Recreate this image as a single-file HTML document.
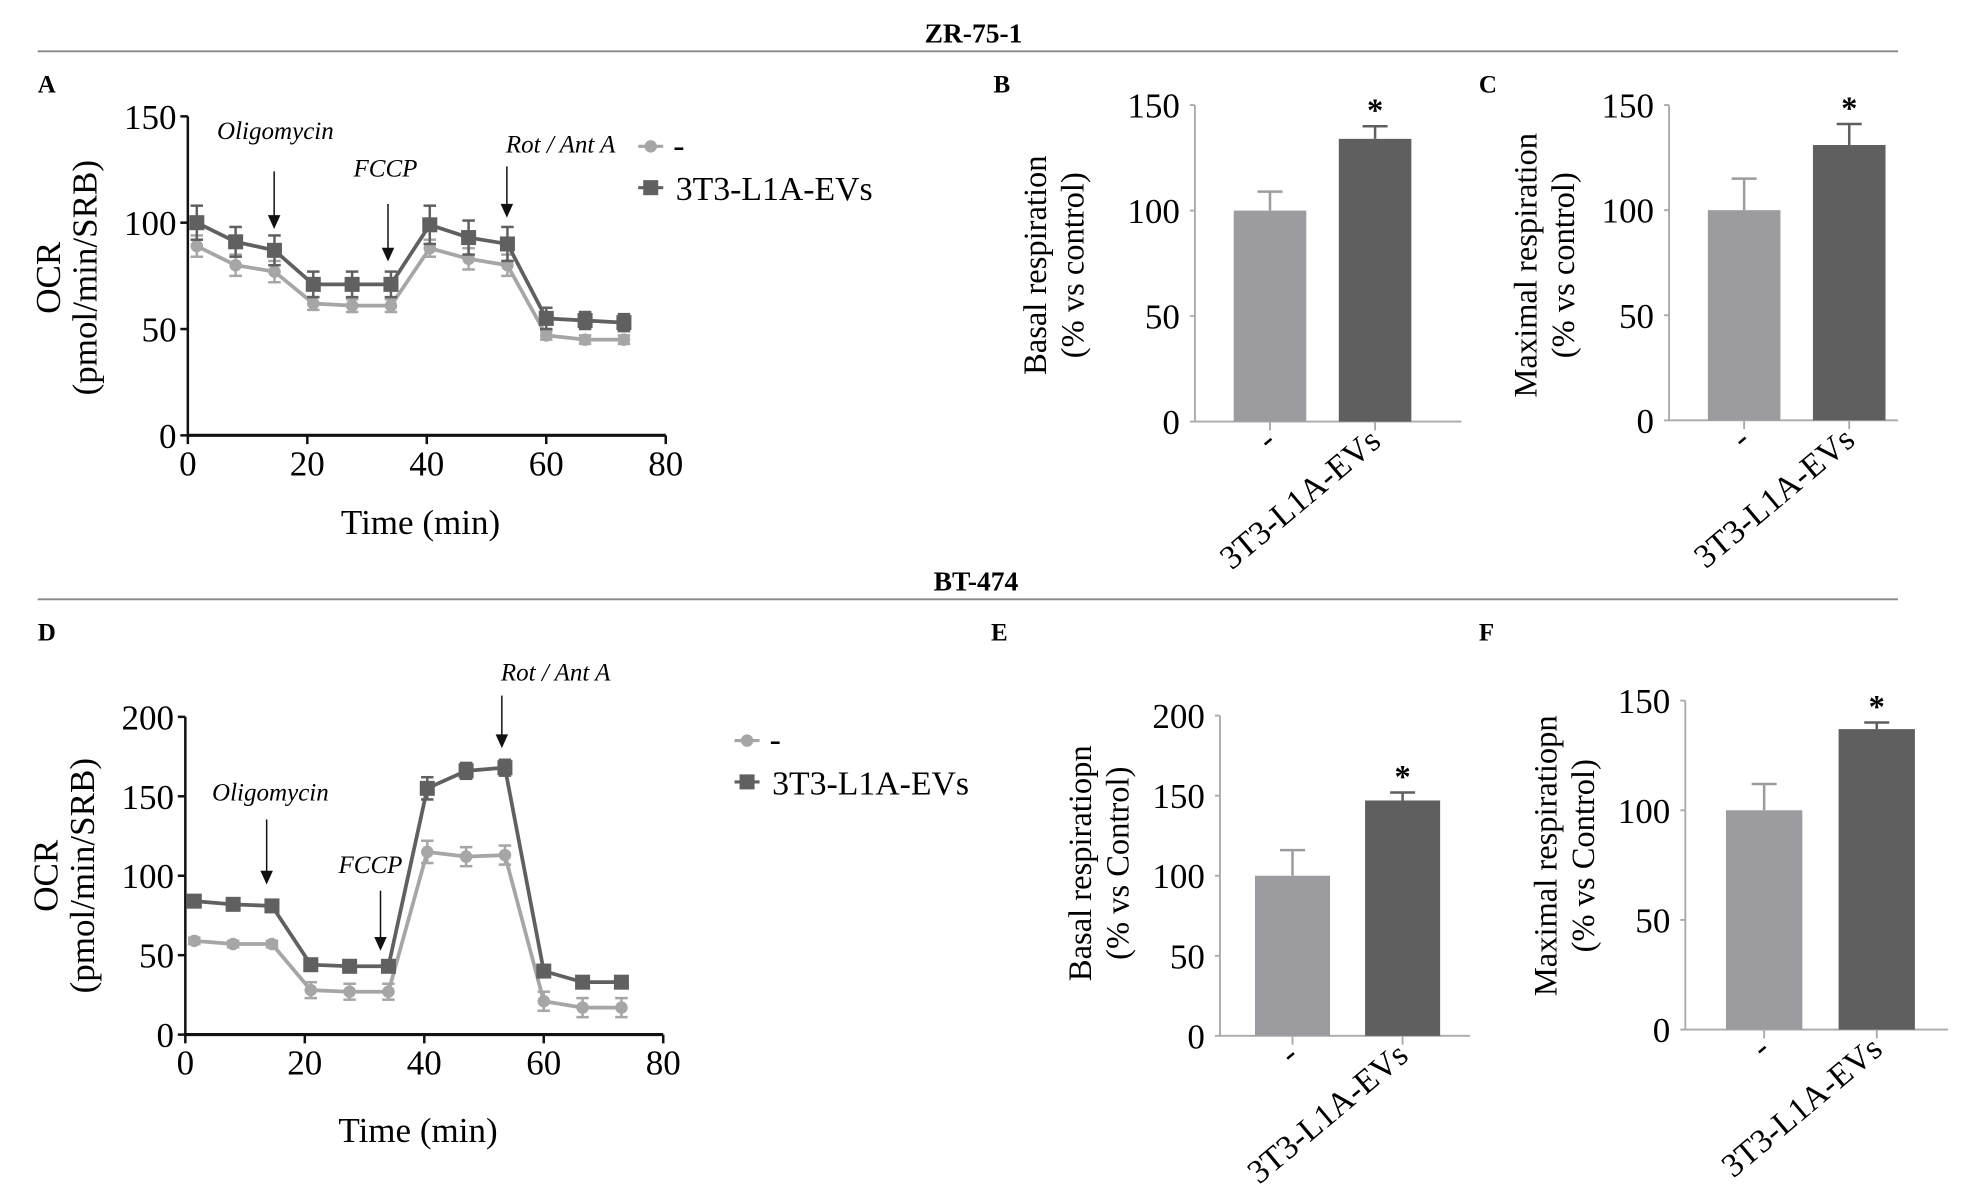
<!DOCTYPE html>
<html><head><meta charset="utf-8"><style>html,body{margin:0;padding:0;background:#fff}svg{display:block}text{font-family:"Liberation Serif",serif}</style></head>
<body>
<svg id="fig" width="1962" height="1196" viewBox="0 0 1568 956" xmlns="http://www.w3.org/2000/svg">
<g>
<text x="778" y="34" font-size="22" font-weight="bold" text-anchor="middle">ZR-75-1</text>
<line x1="30" y1="41" x2="1517" y2="41" stroke="#888" stroke-width="1.5"/>
</g>
<g>
<text x="780" y="472" font-size="22" font-weight="bold" text-anchor="middle">BT-474</text>
<line x1="30" y1="479" x2="1517" y2="479" stroke="#888" stroke-width="1.5"/>
</g>
</svg>
<script>
const timeA=[1.5,8,14.5,21,27.5,34,40.5,47,53.5,60,66.5,73];
const ctrlA=[89,80,77,62,61,61,88,83,80,47,45,45];
const ctrlAErr=[5,5,5,3,3,3,4,5,5,2,2,2];
const evsA=[100,91,87,71,71,71,99,93,90,55,54,53];
const evsAErr=[8,7,7,6,6,6,9,8,8,5,4,4];
const ctrlD=[59,57,57,28,27,27,115,112,113,21,17,17];
const ctrlDErr=[2,2,2,5,5,5,7,6,6,6,6,6];
const evsD=[84,82,81,44,43,43,155,166,168,40,33,33];
const evsDErr=[3,3,3,2,2,2,7,5,5,2,2,2];
const barCats=['-','3T3-L1A-EVs'];
const barB=[100,134],barBErr=[9,6];
const barC=[100,131],barCErr=[15,10];
const barE=[100,147],barEErr=[16,5];
const barF=[100,137],barFErr=[12,3];
const ticksY150=[0,50,100,150],ticksY200=[0,50,100,150,200],ticksX=[0,20,40,60,80];

const svg=document.getElementById('fig');const NS='http://www.w3.org/2000/svg';
function el(tag,attrs,parent,txt){const e=document.createElementNS(NS,tag);for(const k in attrs)e.setAttribute(k,attrs[k]);if(txt!==undefined)e.textContent=txt;(parent||svg).appendChild(e);return e;}
function grp(name){const g=el('g',{});return g;}

function lineChart(o){
  const g=grp(o.name);
  const sx=v=>o.x0+(v-0)/80*(o.x1-o.x0);
  const sy=v=>o.y0-(v/o.ymax)*(o.y0-o.y1);
  el('line',{x1:o.x0,y1:sy(0),x2:o.x1,y2:sy(0),stroke:'#111','stroke-width':2.5},g);
  el('line',{x1:o.x0,y1:sy(0),x2:o.x0,y2:o.y1,stroke:'#111','stroke-width':2},g);
  o.yt.forEach(t=>{el('line',{x1:o.x0-6,y1:sy(t),x2:o.x0,y2:sy(t),stroke:'#111','stroke-width':2},g);
    const tx=el('text',{x:o.x0-9,y:sy(t)+10,'font-size':28,'text-anchor':'end'},g,String(t));});
  ticksX.forEach(t=>{el('line',{x1:sx(t),y1:sy(0),x2:sx(t),y2:sy(0)+7,stroke:'#111','stroke-width':2},g);
    const tx=el('text',{x:sx(t),y:sy(0)+32,'font-size':28,'text-anchor':'middle'},g,String(t));});
  const xl=el('text',{x:(o.x0+o.x1)/2-5,y:o.xlabY,'font-size':28,'text-anchor':'middle'},g,'Time (min)');
  
  const yl=el('text',{transform:`translate(${o.ylx},${o.yly}) rotate(-90)`,'font-size':28,'text-anchor':'middle'},g);
  
  el('tspan',{x:0,y:0},yl,'OCR');el('tspan',{x:0,y:29},yl,'(pmol/min/SRB)');
  [[o.ctrl,o.ctrlErr,'#a6a6a6','circle','series-control'],[o.evs,o.evsErr,'#606060','square','series-evs']].forEach(([vals,err,col,shape,nm])=>{
    const sg=el('g',{},g);
    el('polyline',{points:timeA.map((t,i)=>sx(t)+','+sy(vals[i])).join(' '),fill:'none',stroke:col,'stroke-width':3},sg);
    timeA.forEach((t,i)=>{const x=sx(t),y1=sy(vals[i]+err[i]),y2=sy(vals[i]-err[i]);
      el('line',{x1:x,y1:y1,x2:x,y2:y2,stroke:col,'stroke-width':2},sg);
      el('line',{x1:x-5,y1:y1,x2:x+5,y2:y1,stroke:col,'stroke-width':2},sg);
      el('line',{x1:x-5,y1:y2,x2:x+5,y2:y2,stroke:col,'stroke-width':2},sg);
      if(shape==='circle')el('circle',{cx:x,cy:sy(vals[i]),r:5,fill:col},sg);
      else el('rect',{x:x-6,y:sy(vals[i])-6,width:12,height:12,fill:col},sg);});
  });
  o.arrows.forEach(a=>{const ag=el('g',{},g);
    el('text',{x:a.tx,y:a.ty,'font-size':20,'font-style':'italic','text-anchor':'middle'},ag,a.t);
    el('line',{x1:a.ax,y1:a.a1,x2:a.ax,y2:a.a2-8,stroke:'#111','stroke-width':1.2},ag);
    el('polygon',{points:`${a.ax-5},${a.a2-11} ${a.ax+5},${a.a2-11} ${a.ax},${a.a2}`,fill:'#111'},ag);});
  const lg=el('g',{},g);
  const L=o.leg;
  el('line',{x1:L.x-10,y1:L.y,x2:L.x+10,y2:L.y,stroke:'#a6a6a6','stroke-width':2.5},lg);el('circle',{cx:L.x,cy:L.y,r:5,fill:'#a6a6a6'},lg);
  el('text',{x:L.x+18,y:L.y+8,'font-size':27},lg,'-');
  el('line',{x1:L.x-10,y1:L.y+33,x2:L.x+10,y2:L.y+33,stroke:'#606060','stroke-width':2.5},lg);el('rect',{x:L.x-6,y:L.y+27,width:12,height:12,fill:'#606060'},lg);
  el('text',{x:L.x+20,y:L.y+43,'font-size':27},lg,'3T3-L1A-EVs');
  const pl=el('text',{x:o.lab[0],y:o.lab[1],'font-size':20,'font-weight':'bold'},g,o.letter);
}

function barChart(o){
  const g=grp(o.name);
  const sy=v=>o.y0-(v/o.ymax)*(o.y0-o.y1);
  el('line',{x1:o.x0,y1:o.y0,x2:o.x0,y2:o.y1,stroke:'#aaa','stroke-width':1.5},g);
  el('line',{x1:o.x0,y1:o.y0,x2:o.x1,y2:o.y0,stroke:'#aaa','stroke-width':1.5},g);
  o.yt.forEach(t=>{el('line',{x1:o.x0-4,y1:sy(t),x2:o.x0,y2:sy(t),stroke:'#aaa','stroke-width':1.5},g);
    const tx=el('text',{x:o.x0-12,y:sy(t)+10,'font-size':28,'text-anchor':'end'},g,String(t));});
  const cols=['#9c9ca0','#5f5f5f'];
  o.vals.forEach((v,i)=>{const cx=o.bx[i];
    const b=el('rect',{x:cx-o.bw/2,y:sy(v),width:o.bw,height:o.y0-sy(v),fill:cols[i]},g);
    
    const ey=sy(v+o.err[i]);
    el('line',{x1:cx,y1:sy(v),x2:cx,y2:ey,stroke:cols[i],'stroke-width':2},g);
    el('line',{x1:cx-10,y1:ey,x2:cx+10,y2:ey,stroke:cols[i],'stroke-width':2},g);
    el('line',{x1:cx,y1:o.y0,x2:cx,y2:o.y0+7,stroke:'#aaa','stroke-width':1.5},g);
    const lx=el('text',{transform:`translate(${cx+6},${o.y0+18}) rotate(-40)`,'font-size':27,'text-anchor':'end'},g,barCats[i]);
    
    if(i===1){const s=el('text',{x:cx,y:ey-4,'font-size':26,'font-weight':'bold','text-anchor':'middle'},g,'*');}
  });
  const yl=el('text',{transform:`translate(${o.ylx},${o.yly}) rotate(-90)`,'font-size':26,'text-anchor':'middle'},g);
  
  el('tspan',{x:0,y:0},yl,o.t1);el('tspan',{x:0,y:30},yl,o.t2);
  const pl=el('text',{x:o.lab[0],y:o.lab[1],'font-size':20,'font-weight':'bold'},g,o.letter);
}

lineChart({name:'panel-a-ocr-chart',letter:'A',lab:[30,74],x0:150,x1:532,y0:348,y1:93,ymax:150,yt:ticksY150,ctrl:ctrlA,ctrlErr:ctrlAErr,evs:evsA,evsErr:evsAErr,xlabY:427,ylx:48,yly:222,
  leg:{x:520,y:117},arrows:[{k:'oligomycin',t:'Oligomycin',tx:220,ty:111,ax:219,a1:137,a2:183},{k:'fccp',t:'FCCP',tx:308,ty:141,ax:310,a1:163,a2:209},{k:'rot-ant',t:'Rot / Ant A',tx:448,ty:122,ax:405,a1:133,a2:174}]});
lineChart({name:'panel-d-ocr-chart',letter:'D',lab:[30,512],x0:148,x1:530,y0:827,y1:573,ymax:200,yt:ticksY200,ctrl:ctrlD,ctrlErr:ctrlDErr,evs:evsD,evsErr:evsDErr,xlabY:913,ylx:46,yly:700,
  leg:{x:597,y:592},arrows:[{k:'oligomycin',t:'Oligomycin',tx:216,ty:640,ax:213,a1:655,a2:707},{k:'fccp',t:'FCCP',tx:296,ty:698,ax:304,a1:712,a2:760},{k:'rot-ant',t:'Rot / Ant A',tx:444,ty:544,ax:401,a1:556,a2:598}]});
barChart({name:'panel-b-basal-chart',letter:'B',lab:[794,74],x0:955,x1:1168,y0:337,y1:84,ymax:150,yt:ticksY150,vals:barB,err:barBErr,bx:[1015,1099],bw:58,ylx:836,yly:212,t1:'Basal respiration',t2:'(% vs control)'});
barChart({name:'panel-c-maximal-chart',letter:'C',lab:[1182,74],x0:1334,x1:1517,y0:336,y1:84,ymax:150,yt:ticksY150,vals:barC,err:barCErr,bx:[1394,1478],bw:58,ylx:1228,yly:212,t1:'Maximal respiration',t2:'(% vs control)'});
barChart({name:'panel-e-basal-chart',letter:'E',lab:[792,512],x0:975,x1:1175,y0:828,y1:572,ymax:200,yt:ticksY200,vals:barE,err:barEErr,bx:[1033,1121],bw:60,ylx:872,yly:690,t1:'Basal respiratiopn',t2:'(% vs Control)'});
barChart({name:'panel-f-maximal-chart',letter:'F',lab:[1182,512],x0:1347,x1:1557,y0:823,y1:560,ymax:150,yt:ticksY150,vals:barF,err:barFErr,bx:[1410,1500],bw:61,ylx:1244,yly:684,t1:'Maximal respiratiopn',t2:'(% vs Control)'});
</script>
</body></html>
